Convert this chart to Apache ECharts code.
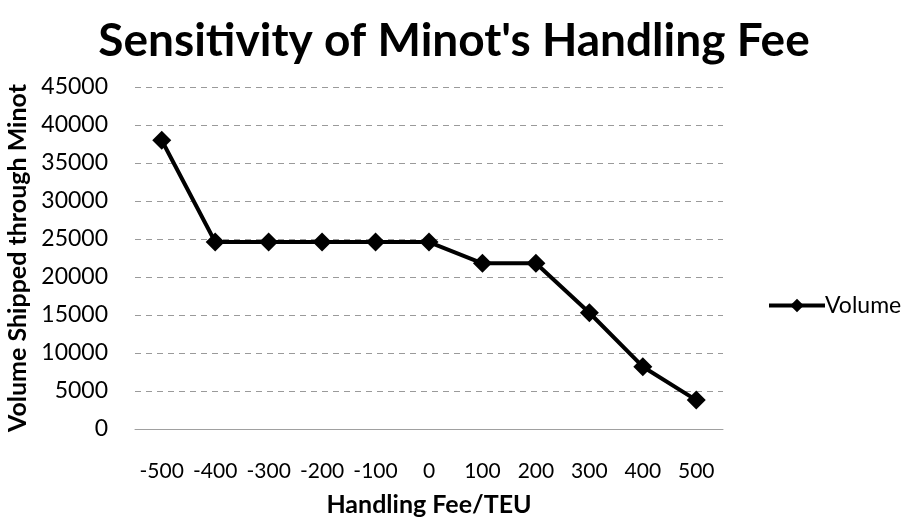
<!DOCTYPE html>
<html>
<head>
<meta charset="utf-8">
<style>
  html, body { margin: 0; padding: 0; background: #ffffff; }
  #chart { width: 909px; height: 518px; }
</style>
<script src="https://cdn.jsdelivr.net/npm/echarts@6/dist/echarts.min.js"></script>
</head>
<body>
<div id="chart"></div>
<script>
// Handling fee per TEU (categories) and resulting volume shipped through Minot
const fees = ['-500', '-400', '-300', '-200', '-100', '0', '100', '200', '300', '400', '500'];
const volume = [38000, 24600, 24600, 24600, 24600, 24600, 21800, 21800, 15300, 8200, 3800];
const yTicks = { min: 0, max: 45000, interval: 5000 };

const FONT = 'Lato, "Open Sans", sans-serif';

const chart = echarts.init(document.getElementById('chart'));
chart.setOption({
  animation: false,
  backgroundColor: '#ffffff',
  title: {
    text: "Sensitivity of Minot's Handling Fee",
    left: 449,
    top: 13,
    textAlign: 'center',
    textStyle: { fontFamily: FONT, fontWeight: 'bold', fontSize: 46, color: '#000000' }
  },
  legend: {
    data: [{ name: 'Volume', lineStyle: { width: 4, color: '#000000' } }],
    left: 762,
    top: 289,
    itemWidth: 56,
    itemHeight: 17,
    itemGap: 0,
    textStyle: { fontFamily: FONT, fontSize: 23, color: '#000000', padding: [0, 0, 0, -5] }
  },
  grid: {
    left: 135, right: 186, top: 87, bottom: 89,
    containLabel: false,
    outerBoundsMode: 'none'
  },
  xAxis: {
    type: 'category',
    data: fees,
    boundaryGap: true,
    name: 'Handling Fee/TEU',
    nameLocation: 'middle',
    nameGap: 63,
    nameTextStyle: { fontFamily: FONT, fontWeight: 'bold', fontSize: 25, color: '#000000' },
    axisLine: { lineStyle: { color: '#a0a0a0', width: 1 } },
    axisTick: { show: false },
    axisLabel: { fontFamily: FONT, fontSize: 21, color: '#000000', margin: 32, interval: 0 }
  },
  yAxis: {
    type: 'value',
    min: yTicks.min,
    max: yTicks.max,
    interval: yTicks.interval,
    name: 'Volume Shipped through Minot',
    nameLocation: 'middle',
    nameGap: 97,
    nameTextStyle: { fontFamily: FONT, fontWeight: 'bold', fontSize: 25, color: '#000000' },
    axisLine: { show: false },
    axisTick: { show: false },
    axisLabel: {
      fontFamily: FONT, fontSize: 23, color: '#000000', margin: 27,
      formatter: (v) => String(v)
    },
    splitLine: { lineStyle: { color: '#9a9a9a', width: 1, type: [6, 5] } }
  },
  series: [{
    name: 'Volume',
    type: 'line',
    data: volume,
    symbol: 'diamond',
    symbolSize: 19,
    lineStyle: { color: '#000000', width: 4 },
    itemStyle: { color: '#000000' }
  }]
});
</script>
</body>
</html>
